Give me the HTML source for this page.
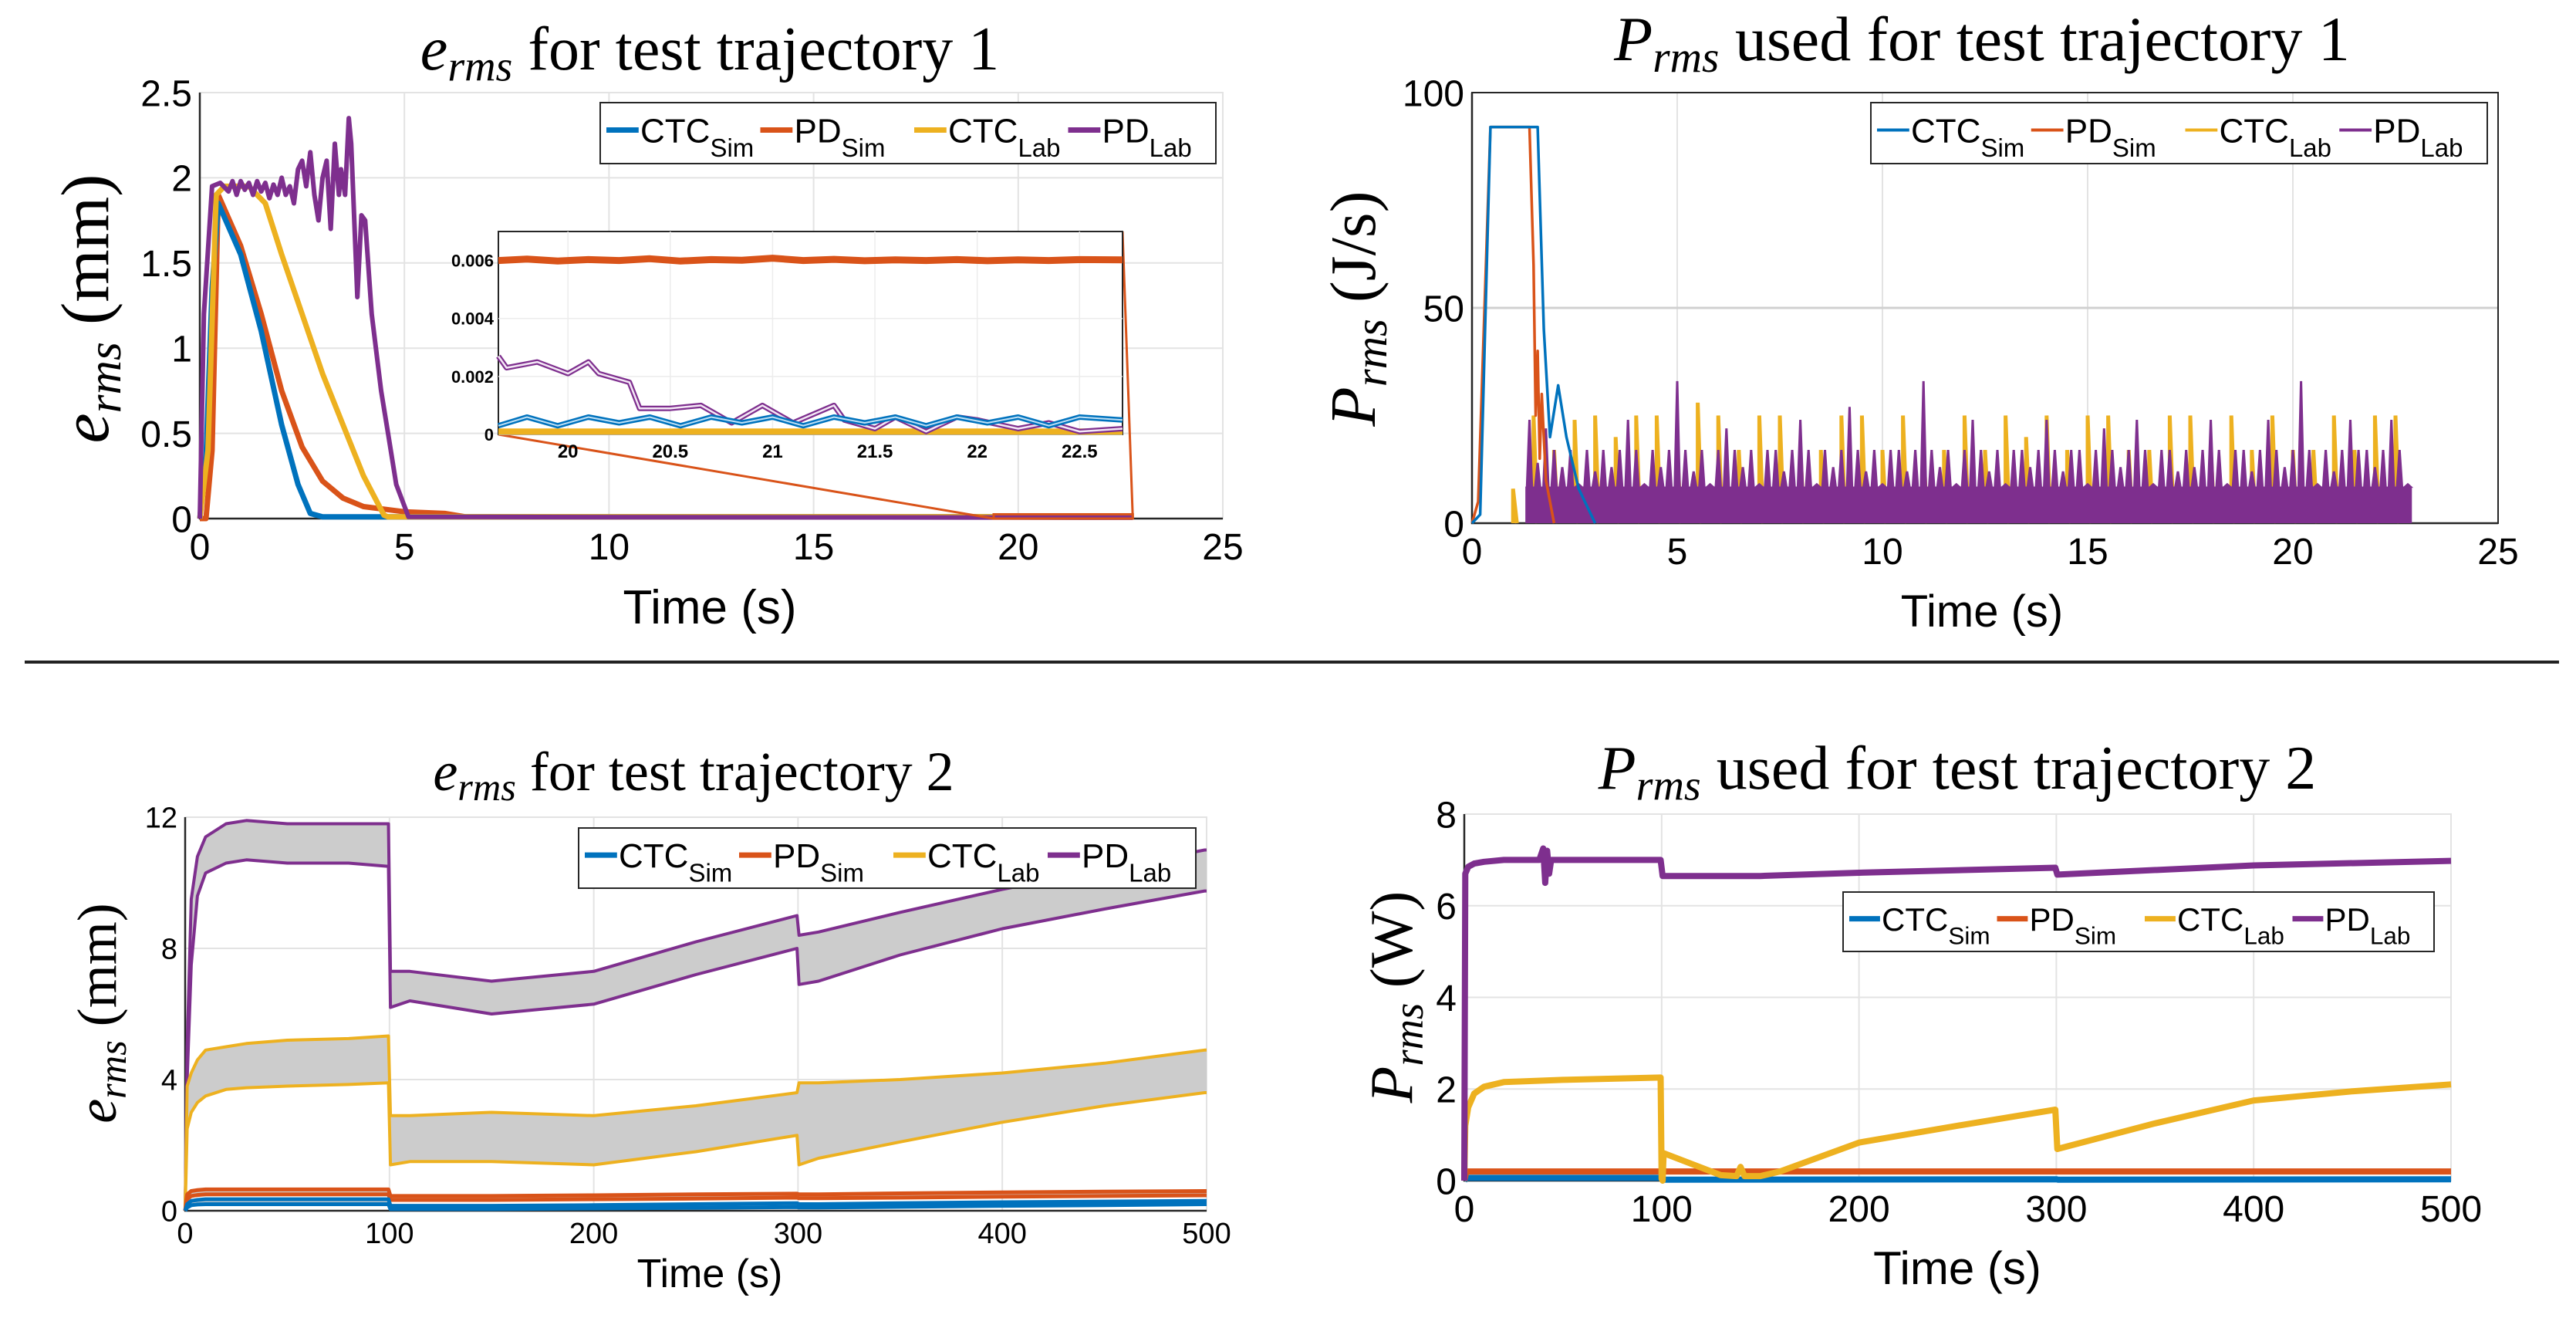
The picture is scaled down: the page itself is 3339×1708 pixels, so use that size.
<!DOCTYPE html>
<html><head><meta charset="utf-8"><style>
html,body{margin:0;padding:0;background:#fff;}
svg{display:block;}
</style></head><body>
<svg id="fig" width="3339" height="1708" viewBox="0 0 3339 1708" xmlns="http://www.w3.org/2000/svg"></svg>
<script>
// ===== Chart 1: e_rms traj 1 =====
const c1CtcSimT=[0,0.15,0.3,0.45,1.0,1.5,2.0,2.4,2.7,3.0,22.8];
const c1CtcSimV=[0,0.35,1.35,1.85,1.55,1.1,0.55,0.2,0.03,0.01,0.01];
const c1PdSimT=[0,0.15,0.3,0.45,1,1.5,2,2.5,3,3.5,4,5,6,6.5,22.8];
const c1PdSimV=[0,0,0.4,1.9,1.6,1.2,0.75,0.42,0.22,0.12,0.07,0.04,0.03,0.01,0.01];
const c1CtcLabT=[0,0.2,0.4,0.6,1.2,1.6,2,2.5,3,3.5,4,4.5,4.6,22.8];
const c1CtcLabV=[0,0.4,1.9,1.95,1.95,1.85,1.55,1.2,0.85,0.55,0.25,0.02,0.01,0.01];
const c1PdLabT=[0,0.1,0.3,0.5,0.7,0.8,0.9,1,1.1,1.2,1.3,1.4,1.5,1.6,1.7,1.8,1.9,2,2.1,2.2,2.3,2.4,2.5,2.6,2.7,2.8,2.9,3,3.1,3.2,3.3,3.4,3.45,3.55,3.64,3.7,3.75,3.85,3.95,4.04,4.2,4.43,4.6,4.8,5.1,22.8];
const c1PdLabV=[0,1.2,1.95,1.97,1.92,1.98,1.9,1.98,1.93,1.97,1.9,1.98,1.92,1.97,1.88,1.96,1.9,2.0,1.9,1.95,1.85,2.05,2.1,1.95,2.15,1.9,1.75,2.0,2.1,1.7,2.2,1.9,2.05,1.9,2.35,2.2,1.9,1.3,1.78,1.75,1.2,0.75,0.5,0.2,0.01,0.005];
const inT=[19.66,19.8,19.95,20.1,20.25,20.4,20.55,20.7,20.85,21.0,21.15,21.3,21.45,21.6,21.75,21.9,22.05,22.2,22.35,22.5,22.71];
const inCtcSim=[0.0003,0.0006,0.0003,0.0006,0.0004,0.0006,0.0003,0.0006,0.0004,0.0006,0.0003,0.0006,0.0004,0.0006,0.0003,0.0006,0.0004,0.0006,0.0003,0.0006,0.0005];
const inPdSim=[0.006,0.00605,0.00598,0.00603,0.006,0.00606,0.00598,0.00603,0.00601,0.00608,0.006,0.00604,0.00599,0.00602,0.006,0.00603,0.00599,0.00602,0.006,0.00603,0.00602];
const inCtcLab=[0.0001,0.0001,0.0001,0.0001,0.0001,0.0001,0.0001,0.0001,0.0001,0.0001,0.0001,0.0001,0.0001,0.0001,0.0001,0.0001,0.0001,0.0001,0.0001,0.0001,0.0001];
const inPdLabT=[19.66,19.7,19.85,20.0,20.1,20.15,20.3,20.35,20.5,20.65,20.8,20.95,21.1,21.3,21.35,21.5,21.6,21.75,21.9,22.0,22.2,22.35,22.5,22.71];
const inPdLabV=[0.0027,0.0023,0.0025,0.0021,0.0025,0.0021,0.0018,0.0009,0.0009,0.0010,0.0004,0.0010,0.0004,0.0010,0.0005,0.0002,0.0006,0.0001,0.0006,0.0005,0.0002,0.0004,0.0001,0.0002];
// ===== Chart 2: P_rms traj 1 =====
const c2CtcSimT=[0,0.2,0.45,1.5,1.6,1.75,1.9,2.1,2.3,2.6,3.0];
const c2CtcSimV=[0,2,92,92,92,45,20,32,20,8,0];
const c2PdSimT=[0,0.15,0.45,1.4,1.5,1.55,1.6,1.65,1.7,1.8,2.0];
const c2PdSimV=[0,5,92,92,60,25,40,15,30,10,0];
const c2PdLabStart=1.4, c2PdLabStep=0.2;
const c2PdLabH=[24,14,22,17,13,17,9,17,12,17,13,17,24,17,9,17,13,17,33,17,12,17,9,17,22,17,13,17,9,17,17,12,17,24,17,9,17,13,17,27,17,12,17,9,17,17,12,17,33,17,13,17,9,17,24,17,12,17,9,17,17,13,17,24,17,12,17,17,9,17,22,17,13,17,24,17,9,17,17,12,17,13,17,24,17,9,17,17,12,17,24,17,13,17,33,17,9,17,12,17,24,17,17,13,17,24,17,9];
const c2CtcLabStart=1.0, c2CtcLabStep=0.5;
const c2CtcLabH=[8,25,17,24,25,20,25,25,17,28,25,17,25,25,17,17,25,25,17,25,17,17,25,17,25,20,25,17,25,25,17,17,25,25,17,25,17,25,17,17,25,17,25,25];
const c2Band=8.5;
// ===== Chart 3: e_rms traj 2 =====
const c3T=[0,1,3,6,10,20,30,50,80,99.5,100.5,110,150,200,250,299.5,300.5,310,350,400,450,499,500];
const c3PdLabUp=[0,5,9.5,10.8,11.4,11.8,11.9,11.8,11.8,11.8,7.3,7.3,7.0,7.3,8.2,9.0,8.4,8.5,9.1,9.8,10.4,11.0,11.0];
const c3PdLabLo=[0,4,7.5,9.6,10.3,10.6,10.7,10.6,10.6,10.5,6.2,6.4,6.0,6.3,7.2,8.0,6.9,7.0,7.8,8.6,9.2,9.75,9.75];
const c3CtcLabUp=[0,3.8,4.2,4.6,4.9,5.0,5.1,5.2,5.25,5.33,2.9,2.9,3.0,2.9,3.2,3.6,3.9,3.9,4.0,4.2,4.5,4.9,4.9];
const c3CtcLabLo=[0,2.5,3.0,3.3,3.5,3.7,3.75,3.8,3.85,3.9,1.4,1.5,1.5,1.4,1.8,2.3,1.4,1.6,2.1,2.7,3.2,3.6,3.6];
const c3PdSimUp=[0,0.5,0.6,0.63,0.65,0.65,0.65,0.65,0.65,0.65,0.45,0.45,0.45,0.47,0.5,0.52,0.5,0.5,0.53,0.56,0.58,0.6,0.6];
const c3PdSimLo=[0,0.35,0.45,0.48,0.5,0.5,0.5,0.5,0.5,0.5,0.33,0.33,0.33,0.35,0.37,0.4,0.38,0.38,0.4,0.43,0.45,0.47,0.47];
const c3CtcSimUp=[0,0.2,0.3,0.33,0.35,0.35,0.35,0.35,0.35,0.35,0.15,0.15,0.15,0.17,0.2,0.23,0.2,0.2,0.23,0.26,0.28,0.3,0.3];
const c3CtcSimLo=[0,0.1,0.17,0.19,0.2,0.2,0.2,0.2,0.2,0.2,0.05,0.05,0.05,0.07,0.09,0.11,0.1,0.1,0.12,0.15,0.17,0.2,0.2];
// ===== Chart 4: P_rms traj 2 =====
const c4PdLabT=[0,0.5,2,5,10,20,38,40,41,42,43,44,60,99.5,100.5,150,200,299.5,300.5,400,500];
const c4PdLabV=[0,6.7,6.85,6.92,6.96,7.0,7.0,7.25,6.5,7.2,6.7,7.0,7.0,7.0,6.65,6.65,6.72,6.83,6.68,6.88,6.98];
const c4CtcLabT=[0,0.5,2,5,10,20,50,99.5,100,100.5,101,130,138,140,142,150,160,200,250,299.5,300.5,350,400,450,500];
const c4CtcLabV=[0,1.2,1.6,1.9,2.05,2.15,2.2,2.25,0.04,0.0,0.6,0.12,0.1,0.3,0.1,0.1,0.2,0.83,1.2,1.55,0.69,1.25,1.75,1.95,2.1];
const c4PdSimT=[0,1,500];
const c4PdSimV=[0,0.2,0.2];
const c4CtcSimT=[0,1,100,101,300,301,500];
const c4CtcSimV=[0,0.06,0.06,0.02,0.03,0.02,0.03];

const BLUE='#0072BD',ORANGE='#D95319',YEL='#EDB120',PUR='#7E2F8E';
const NS='http://www.w3.org/2000/svg';
const fig=document.getElementById('fig');
function mk(tag,attrs,parent){const e=document.createElementNS(NS,tag);for(const k in attrs)e.setAttribute(k,attrs[k]);(parent||fig).appendChild(e);return e;}
function scale(d0,d1,p0,p1){return v=>p0+(v-d0)/(d1-d0)*(p1-p0);}
function pts(T,V,sx,sy){return T.map((t,i)=>sx(t).toFixed(1)+','+sy(V[i]).toFixed(1)).join(' ');}
function line(g,T,V,sx,sy,color,w,name){const p=mk('polyline',{points:pts(T,V,sx,sy),fill:'none',stroke:color,'stroke-width':w,'stroke-linejoin':'round'},g);


return p;}
function band(g,T,U,L,sx,sy,color,w,name){
 const poly=mk('polygon',{points:pts(T,U,sx,sy)+' '+pts(T.slice().reverse(),L.slice().reverse(),sx,sy),fill:'#cccccc',stroke:'none'},g);
 
 
 line(g,T,U,sx,sy,color,w,name+'-upper');
 line(g,T,L,sx,sy,color,w,name+'-lower');
}
function txt(g,x,y,s,size,opts){const t=mk('text',Object.assign({x:x,y:y,'font-size':size,'font-family':'"Liberation Sans",sans-serif','text-anchor':'middle'},opts||{}),g);t.textContent=s;return t;}
function axes(cfg){
 const g=mk('g',{});
 
 
 const sx=scale(cfg.xmin,cfg.xmax,cfg.L,cfg.R), sy=scale(cfg.ymin,cfg.ymax,cfg.B,cfg.T);
 cfg.xticks.forEach((v,i)=>{
  if(v>cfg.xmin&&v<cfg.xmax){const gl=mk('line',{x1:sx(v),x2:sx(v),y1:cfg.T,y2:cfg.B,stroke:'#e3e3e3','stroke-width':2},g);
  
  }
  const t=txt(g,sx(v),cfg.B+cfg.tickFs*1.1,cfg.xlabels[i],cfg.tickFs);
  
  
 });
 cfg.yticks.forEach((v,i)=>{
  if(v>cfg.ymin&&v<cfg.ymax){const gl=mk('line',{x1:cfg.L,x2:cfg.R,y1:sy(v),y2:sy(v),stroke:cfg.ygridColor||'#e3e3e3','stroke-width':cfg.ygridW||2},g);
  
  }
  const t=txt(g,cfg.L-10,sy(v)+cfg.tickFs*0.36,cfg.ylabels[i],cfg.tickFs,{'text-anchor':'end'});
  
  
 });
 const box=mk('rect',{x:cfg.L,y:cfg.T,width:cfg.R-cfg.L,height:cfg.B-cfg.T,fill:'none',stroke:cfg.boxColor||'#e3e3e3','stroke-width':2},g);
 
 
 const ax=mk('polyline',{points:`${cfg.L},${cfg.T} ${cfg.L},${cfg.B} ${cfg.R},${cfg.B}`,fill:'none',stroke:'#262626','stroke-width':2.5},g);
 
 
 const tt=mk('text',{x:cfg.titleX,y:cfg.titleY,'font-size':cfg.titleFs,'font-family':'"Liberation Serif",serif','text-anchor':'middle'},g);
 
 
 const a=mk('tspan',{'font-style':'italic'},tt);a.textContent=cfg.titleVar;
 const b=mk('tspan',{'font-style':'italic','font-size':cfg.titleFs*0.7,dy:cfg.titleFs*0.18},tt);b.textContent='rms';
 const c=mk('tspan',{dy:-cfg.titleFs*0.18},tt);c.textContent=' '+cfg.titleRest;
 const xl=txt(g,cfg.xlabX,cfg.xlabY,'Time (s)',cfg.xlabFs);
 
 
 const yl=mk('text',{x:0,y:0,'font-size':cfg.ylabFs,'font-family':'"Liberation Serif",serif','text-anchor':'middle',transform:`translate(${cfg.ylabX},${cfg.ylabY}) rotate(-90)`},g);
 
 
 const y1=mk('tspan',{'font-style':'italic'},yl);y1.textContent=cfg.ylabVar;
 const y2=mk('tspan',{'font-style':'italic','font-size':cfg.ylabFs*0.7,dy:cfg.ylabFs*0.18},yl);y2.textContent='rms';
 const y3=mk('tspan',{dy:-cfg.ylabFs*0.18},yl);y3.textContent='  '+cfg.ylabUnit;
 return {g,sx,sy};
}
function legend(x,y,w,h,fs,lw){
 const g=mk('g',{});
 
 
 const r=mk('rect',{x:x,y:y,width:w,height:h,fill:'#fff',stroke:'#262626','stroke-width':2},g);
 
 
 const items=[['CTC','Sim',BLUE],['PD','Sim',ORANGE],['CTC','Lab',YEL],['PD','Lab',PUR]];
 const ew=w/4;
 items.forEach((it,i)=>{
  const ex=x+8+i*ew, cy=y+h*0.45;
  const e=mk('g',{},g);
  
  
  mk('line',{x1:ex,x2:ex+fs*0.95,y1:cy,y2:cy,stroke:it[2],'stroke-width':lw},e);
  const t=mk('text',{x:ex+fs,y:cy+fs*0.36,'font-size':fs,'font-family':'"Liberation Sans",sans-serif'},e);
  const a=mk('tspan',{},t);a.textContent=it[0];
  const b=mk('tspan',{'font-size':fs*0.75,dy:fs*0.42},t);b.textContent=it[1];
 });
}

// ---------- Chart 1 ----------
(function(){
 const A=axes({name:'chart-erms-traj1',L:259,R:1585,T:120,B:672,xmin:0,xmax:25,ymin:0,ymax:2.5,
  xticks:[0,5,10,15,20,25],xlabels:['0','5','10','15','20','25'],yticks:[0,0.5,1,1.5,2,2.5],ylabels:['0','0.5','1','1.5','2','2.5'],
  tickFs:48,titleX:920,titleY:90,titleFs:80,titleVar:'e',titleRest:'for test trajectory 1',xlabX:920,xlabY:808,xlabFs:62,ylabX:140,ylabY:400,ylabFs:88,ylabVar:'e',ylabUnit:'(mm)'});
 const {g,sx,sy}=A;
 line(g,c1PdSimT,c1PdSimV,sx,sy,ORANGE,7,'series-pd-sim');
 line(g,c1CtcSimT,c1CtcSimV,sx,sy,BLUE,7,'series-ctc-sim');
 line(g,c1CtcLabT,c1CtcLabV,sx,sy,YEL,7,'series-ctc-lab');
 line(g,c1PdLabT,c1PdLabV,sx,sy,PUR,6,'series-pd-lab');
 const zr=mk('rect',{x:sx(19.4),y:sy(0.025),width:sx(22.8)-sx(19.4),height:sy(0)-sy(0.025),fill:'none',stroke:ORANGE,'stroke-width':3},g);
 
 
 const L=646,R=1455,T=300,B=563;
 const c1=mk('line',{x1:L,y1:B,x2:sx(19.4),y2:sy(0.0),stroke:ORANGE,'stroke-width':3},g);
 
 
 const c2=mk('line',{x1:R,y1:T,x2:sx(22.8),y2:sy(0.0),stroke:ORANGE,'stroke-width':3},g);
 
 
 const ig=mk('g',{},g);
 
 
 const bg=mk('rect',{x:L,y:T,width:R-L,height:B-T,fill:'#fff',stroke:'#262626','stroke-width':2},ig);
 
 
 const ix=scale(19.66,22.71,L,R), iy=scale(0,0.007,B,T);
 [20,20.5,21,21.5,22,22.5].forEach(v=>{mk('line',{x1:ix(v),x2:ix(v),y1:T,y2:B,stroke:'#ececec','stroke-width':1.5},ig);
  const t=txt(ig,ix(v),B+30,String(v),24,{'font-weight':'bold'});
  
  });
 [[0,'0'],[0.002,'0.002'],[0.004,'0.004'],[0.006,'0.006']].forEach(p=>{mk('line',{x1:L,x2:R,y1:iy(p[0]),y2:iy(p[0]),stroke:'#ececec','stroke-width':1.5},ig);
  const t=txt(ig,L-6,iy(p[0])+8,p[1],22,{'text-anchor':'end','font-weight':'bold'});
  
  });
 line(ig,inT,inPdSim,ix,iy,ORANGE,9,'inset-pd-sim');
 line(ig,inT,inCtcLab,ix,iy,YEL,8,'inset-ctc-lab');
 line(ig,inPdLabT,inPdLabV,ix,iy,PUR,7,'inset-pd-lab');
 line(ig,inPdLabT,inPdLabV,ix,iy,'#f4e8f6',2.5,'inset-pd-lab-core');
 line(ig,inT,inCtcSim,ix,iy,BLUE,7,'inset-ctc-sim');
 line(ig,inT,inCtcSim,ix,iy,'#bfe0f5',2,'inset-ctc-sim-core');
 legend(778,133,798,79,44,7);
})();

// ---------- Chart 2 ----------
(function(){
 const A=axes({name:'chart-prms-traj1',L:1908,R:3238,T:120,B:678,xmin:0,xmax:25,ymin:0,ymax:100,
  xticks:[0,5,10,15,20,25],xlabels:['0','5','10','15','20','25'],yticks:[0,50,100],ylabels:['0','50','100'],boxColor:'#262626',ygridColor:'#d0d0d0',ygridW:3,
  tickFs:48,titleX:2569,titleY:78,titleFs:82,titleVar:'P',titleRest:'used for test trajectory 1',xlabX:2569,xlabY:812,xlabFs:58,ylabX:1782,ylabY:400,ylabFs:84,ylabVar:'P',ylabUnit:'(J/s)'});
 const {g,sx,sy}=A;
 const yd=c2CtcLabH.map((h,i)=>{const t=c2CtcLabStart+i*c2CtcLabStep;return `M${sx(t).toFixed(1)},${sy(0)} L${sx(t).toFixed(1)},${sy(h).toFixed(1)} L${(sx(t)+5).toFixed(1)},${sy(0)}`;}).join(' ');
 const yp=mk('path',{d:yd,fill:'none',stroke:YEL,'stroke-width':5},g);
 
 
 const bandR=mk('rect',{x:sx(1.3),y:sy(c2Band),width:sx(22.9)-sx(1.3),height:sy(0)-sy(c2Band),fill:PUR},g);
 
 
 const pd=c2PdLabH.map((h,i)=>{const t=c2PdLabStart+i*c2PdLabStep;return `M${sx(t-0.06).toFixed(1)},${sy(c2Band).toFixed(1)} L${sx(t).toFixed(1)},${sy(h).toFixed(1)} L${sx(t+0.06).toFixed(1)},${sy(c2Band).toFixed(1)} Z`;}).join(' ');
 const pp=mk('path',{d:pd,fill:PUR,stroke:PUR,'stroke-width':3},g);
 
 
 line(g,c2PdSimT,c2PdSimV,sx,sy,ORANGE,3.5,'series-pd-sim');
 line(g,c2CtcSimT,c2CtcSimV,sx,sy,BLUE,3.5,'series-ctc-sim');
 legend(2425,133,799,79,44,4);
})();

const sep=mk('line',{x1:32,x2:3317,y1:858,y2:858,stroke:'#222','stroke-width':4});



// ---------- Chart 3 ----------
(function(){
 const A=axes({name:'chart-erms-traj2',L:240,R:1564,T:1059,B:1569,xmin:0,xmax:500,ymin:0,ymax:12,
  xticks:[0,100,200,300,400,500],xlabels:['0','100','200','300','400','500'],yticks:[0,4,8,12],ylabels:['0','4','8','12'],
  tickFs:38,titleX:899,titleY:1024,titleFs:72,titleVar:'e',titleRest:'for test trajectory 2',xlabX:920,xlabY:1668,xlabFs:52,ylabX:150,ylabY:1313,ylabFs:72,ylabVar:'e',ylabUnit:'(mm)'});
 const {g,sx,sy}=A;
 band(g,c3T,c3PdLabUp,c3PdLabLo,sx,sy,PUR,4,'series-pd-lab');
 band(g,c3T,c3CtcLabUp,c3CtcLabLo,sx,sy,YEL,4,'series-ctc-lab');
 band(g,c3T,c3PdSimUp,c3PdSimLo,sx,sy,ORANGE,5,'series-pd-sim');
 band(g,c3T,c3CtcSimUp,c3CtcSimLo,sx,sy,BLUE,5,'series-ctc-sim');
 legend(750,1073,800,78,44,7);
})();

// ---------- Chart 4 ----------
(function(){
 const A=axes({name:'chart-prms-traj2',L:1898,R:3177,T:1055,B:1530,xmin:0,xmax:500,ymin:0,ymax:8,
  xticks:[0,100,200,300,400,500],xlabels:['0','100','200','300','400','500'],yticks:[0,2,4,6,8],ylabels:['0','2','4','6','8'],
  tickFs:48,titleX:2537,titleY:1022,titleFs:80,titleVar:'P',titleRest:'used for test trajectory 2',xlabX:2537,xlabY:1664,xlabFs:60,ylabX:1830,ylabY:1292,ylabFs:78,ylabVar:'P',ylabUnit:'(W)'});
 const {g,sx,sy}=A;
 line(g,c4CtcSimT,c4CtcSimV,sx,sy,BLUE,8,'series-ctc-sim');
 line(g,c4PdSimT,c4PdSimV,sx,sy,ORANGE,8,'series-pd-sim');
 line(g,c4CtcLabT,c4CtcLabV,sx,sy,YEL,8,'series-ctc-lab');
 line(g,c4PdLabT,c4PdLabV,sx,sy,PUR,8,'series-pd-lab');
 legend(2389,1156,766,77,42,7);
})();
</script>
</body></html>
